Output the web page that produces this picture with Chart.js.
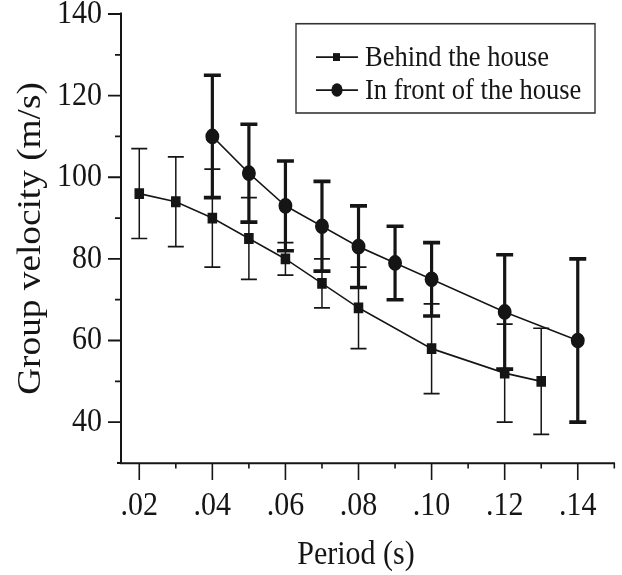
<!DOCTYPE html>
<html>
<head>
<meta charset="utf-8">
<script src="https://cdn.jsdelivr.net/npm/chart.js@4/dist/chart.umd.min.js"></script>
<style>
  body { margin: 0; background: #fff; }
  canvas { display: block; }
</style>
</head>
<body>
<canvas id="myChart" width="622" height="509"></canvas>
<script>
// ---------- data ----------
const behindPeriod = [0.02, 0.03, 0.04, 0.05, 0.06, 0.07, 0.08, 0.10, 0.12, 0.13];
const behindVel    = [96, 94, 90, 85, 80, 74, 68, 58, 52, 50];
const behindHigh   = [107, 105, 102, 95, 84, 80, 78, 69, 64, 63];
const behindLow    = [85, 83, 78, 75, 76, 68, 58, 47, 40, 37];

const frontPeriod = [0.04, 0.05, 0.06, 0.07, 0.08, 0.09, 0.10, 0.12, 0.14];
const frontVel    = [110, 101, 93, 88, 83, 79, 75, 67, 60];
const frontHigh   = [125, 113, 104, 99, 93, 88, 84, 81, 80];
const frontLow    = [95, 89, 82, 77, 73, 70, 66, 53, 40];

const xTicks = [0.02, 0.03, 0.04, 0.05, 0.06, 0.07, 0.08, 0.09, 0.10, 0.11, 0.12, 0.13, 0.14, 0.15];
const yTicks = [40, 50, 60, 70, 80, 90, 100, 110, 120, 130, 140];

const xTitle = 'Period (s)';
const yTitle = 'Group velocity (m/s)';

const ink = '#151515';
const serif = "'Liberation Serif', 'Times New Roman', serif";

// the figure is printed a bit taller than wide, so everything is drawn
// into a shorter layout and stretched vertically onto the canvas
const stretchY = 1.13;
const outHeight = 575;

const isMajorX = v => Math.round(v * 100) % 2 === 0;
const isMajorY = v => v % 20 === 0;

// ---------- plugins ----------

const stretch = {
    id: 'stretch',
    beforeDraw(chart) {
        chart.ctx.save();
        chart.ctx.setTransform(1, 0, 0, stretchY, 0, 0);
    },
    afterDraw(chart) {
        chart.ctx.restore();
    }
};

// vertical error bars with caps, drawn under the markers
const errorBars = {
    id: 'errorBars',
    beforeDatasetsDraw(chart) {
        const {ctx, scales: {x, y}} = chart;
        chart.data.datasets.forEach(ds => {
            ctx.save();
            ctx.strokeStyle = ink;
            ctx.lineWidth = ds.errWidth;
            ds.data.forEach((p, i) => {
                const px = x.getPixelForValue(p.x);
                const top = y.getPixelForValue(ds.errHigh[i]);
                const bot = y.getPixelForValue(ds.errLow[i]);
                const cap = ds.capHalf;
                ctx.beginPath();
                ctx.moveTo(px, top); ctx.lineTo(px, bot);
                ctx.moveTo(px - cap, top); ctx.lineTo(px + cap, top);
                ctx.moveTo(px - cap, bot); ctx.lineTo(px + cap, bot);
                ctx.stroke();
            });
            ctx.restore();
        });
    }
};

// outward tick marks, long on labelled values, short in between
const tickMarks = {
    id: 'tickMarks',
    afterDraw(chart) {
        const {ctx, scales: {x, y}} = chart;
        ctx.save();
        ctx.strokeStyle = ink;
        ctx.lineWidth = 1.6;
        ctx.beginPath();
        x.ticks.forEach(t => {
            const px = x.getPixelForValue(t.value);
            ctx.moveTo(px, x.top);
            ctx.lineTo(px, x.top + (isMajorX(t.value) ? 15 : 5));
        });
        y.ticks.forEach(t => {
            const py = y.getPixelForValue(t.value);
            ctx.moveTo(y.right, py);
            ctx.lineTo(y.right - (isMajorY(t.value) ? 13 : 6), py);
        });
        ctx.stroke();
        // x axis runs a few pixels past the y axis
        ctx.lineWidth = 1.8;
        ctx.beginPath();
        ctx.moveTo(y.right - 4, x.top);
        ctx.lineTo(y.right, x.top);
        ctx.stroke();
        ctx.restore();
    }
};

// x axis title, set a little left of the plot centre
const xAxisTitle = {
    id: 'xAxisTitle',
    afterDraw(chart) {
        const {ctx} = chart;
        ctx.save();
        ctx.font = '30px ' + serif;
        ctx.fillStyle = ink;
        ctx.textAlign = 'center';
        ctx.textBaseline = 'middle';
        ctx.fillText(xTitle, 356, 491);
        ctx.restore();
    }
};

// boxed legend in the upper right of the plot
const boxLegend = {
    id: 'boxLegend',
    afterDraw(chart) {
        const {ctx} = chart;
        const left = 296, top = 21, w = 299, h = 79;
        ctx.save();
        ctx.strokeStyle = '#333';
        ctx.lineWidth = 1.4;
        ctx.strokeRect(left, top, w, h);
        ctx.font = '26.5px ' + serif;
        ctx.textBaseline = 'middle';
        ctx.fillStyle = ink;
        chart.data.datasets.forEach((ds, i) => {
            const cy = top + 29.5 + i * 29.2;
            ctx.lineWidth = 1.5;
            ctx.strokeStyle = ink;
            ctx.beginPath();
            ctx.moveTo(left + 20, cy);
            ctx.lineTo(left + 62, cy);
            ctx.stroke();
            ctx.beginPath();
            if (ds.pointStyle === 'rect') {
                ctx.rect(left + 37, cy - 3.5, 7, 7);
            } else {
                ctx.ellipse(left + 41, cy, 5.6, 6, 0, 0, Math.PI * 2);
            }
            ctx.fill();
            ctx.fillText(ds.label, left + 69, cy + 1);
        });
        ctx.restore();
    }
};

// ---------- config ----------
const data = {
    datasets: [{
        label: 'Behind the house',
        data: behindPeriod.map((p, i) => ({x: p, y: behindVel[i]})),
        errHigh: behindHigh,
        errLow: behindLow,
        errWidth: 1.5,
        capHalf: 8,
        borderColor: ink,
        backgroundColor: ink,
        borderWidth: 1.5,
        pointStyle: 'rect',
        pointRadius: 5.7,
        showLine: true,
        tension: 0
    }, {
        label: 'In front of the house',
        data: frontPeriod.map((p, i) => ({x: p, y: frontVel[i]})),
        errHigh: frontHigh,
        errLow: frontLow,
        errWidth: 3.2,
        capHalf: 8.5,
        borderColor: ink,
        backgroundColor: ink,
        borderWidth: 1.5,
        pointStyle: 'circle',
        pointRadius: 6.2,
        showLine: true,
        tension: 0
    }]
};

const config = {
    type: 'scatter',
    data,
    options: {
        responsive: false,
        animation: false,
        layout: { padding: { top: 12.4, right: 7, left: 0, bottom: 0 } },
        plugins: {
            legend: { display: false },
            tooltip: { enabled: false }
        },
        scales: {
            x: {
                type: 'linear',
                min: 0.015,
                max: 0.15,
                afterBuildTicks: s => { s.ticks = xTicks.map(v => ({value: v})); },
                afterFit: s => {
                    s.height = 99.3;
                    s.paddingLeft = 0;
                    s.paddingRight = 0;
                },
                grid: { display: false, drawTicks: false },
                border: { display: true, color: ink, width: 1.8 },
                ticks: {
                    autoSkip: false,
                    maxRotation: 0,
                    padding: 24.5,
                    color: ink,
                    font: { family: serif, size: 30, lineHeight: 0.93 },
                    callback: v => isMajorX(v) ? '.' + String(Math.round(v * 100)).padStart(2, '0') : ''
                }
            },
            y: {
                min: 30,
                max: 140,
                afterBuildTicks: s => { s.ticks = yTicks.map(v => ({value: v})); },
                afterFit: s => {
                    s.width = 121;
                    s.paddingTop = 0;
                    s.paddingBottom = 0;
                },
                grid: { display: false, drawTicks: false },
                border: { display: true, color: ink, width: 2 },
                ticks: {
                    padding: 19,
                    color: ink,
                    font: { family: serif, size: 30, lineHeight: 0.93 },
                    callback: v => isMajorY(v) ? String(v) : ''
                },
                title: {
                    display: true,
                    text: yTitle,
                    color: ink,
                    font: { family: serif, size: 33 },
                    padding: { top: 12, bottom: 0 }
                }
            }
        }
    },
    plugins: [errorBars, tickMarks, xAxisTitle, boxLegend, stretch]
};

// render, then redraw onto the full-height canvas
const canvas = document.getElementById('myChart');
const myChart = new Chart(canvas, config);
canvas.height = outHeight;
canvas.style.height = outHeight + 'px';
myChart.draw();
</script>
</body>
</html>
